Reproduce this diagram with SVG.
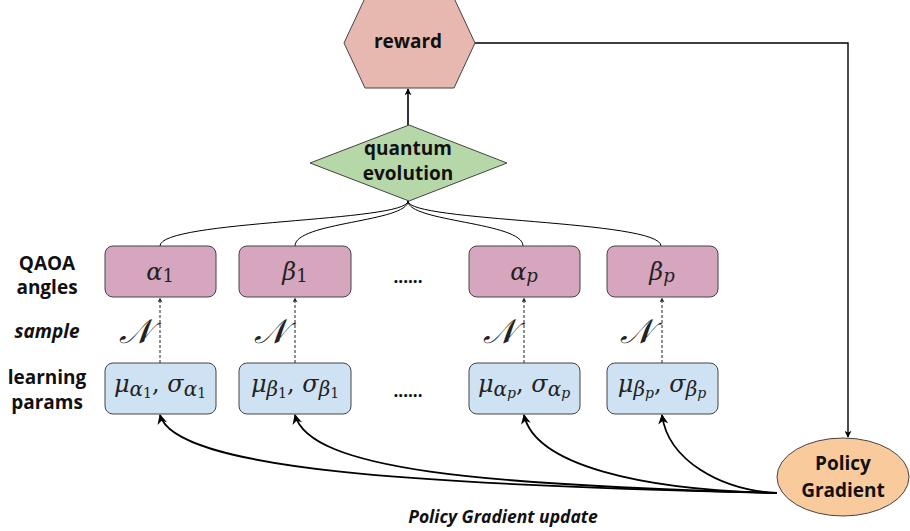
<svg xmlns="http://www.w3.org/2000/svg" width="910" height="531" viewBox="0 0 910 531">
<style>
.lbl{font-family:"Open Sans","Liberation Sans",sans-serif;font-weight:bold;font-size:19px;fill:#111;text-anchor:middle}
.math{font-family:"DejaVu Serif","Liberation Serif",serif;font-style:italic;font-size:24px;fill:#222;text-anchor:middle}
.up{font-style:normal}
.cal{font-size:34px}
.node{stroke:#444;stroke-width:1}
.pink{fill:#D5A6BD}
.blue{fill:#CFE2F3}
.conn{fill:none;stroke:#000}
.dash{fill:none;stroke:#222;stroke-width:1;stroke-dasharray:3,2}
.dots{font-family:"Open Sans","Liberation Sans",sans-serif;font-weight:bold;font-size:17px;fill:#111;text-anchor:middle}
</style>
<defs>
<marker id="ah" viewBox="0 0 10 10" refX="9" refY="5" markerWidth="7" markerHeight="7" markerUnits="userSpaceOnUse" orient="auto">
<path d="M0,0 L10,5 L0,10 L3,5 Z" fill="#000"/>
</marker>
<marker id="ahs" viewBox="0 0 10 10" refX="9" refY="5" markerWidth="5" markerHeight="5" markerUnits="userSpaceOnUse" orient="auto">
<path d="M0,0 L10,5 L0,10 L3,5 Z" fill="#222"/>
</marker>
<marker id="ahb" viewBox="0 0 10 10" refX="9" refY="5" markerWidth="10" markerHeight="10" markerUnits="userSpaceOnUse" orient="auto">
<path d="M0,0 L10,5 L0,10 L3,5 Z" fill="#000"/>
</marker>
</defs>

<g id="connectors">
<path class="conn" stroke-width="1.6" d="M408,125 L408,89" marker-end="url(#ah)"/>
<path class="conn" stroke-width="1.4" d="M475,43 L848,43 L848,437" marker-end="url(#ah)"/>
<path class="conn" stroke-width="1" d="M408,201 C408,222 160,220 160,246"/>
<path class="conn" stroke-width="1" d="M408,201 C408,222 295,222 295,246"/>
<path class="conn" stroke-width="1" d="M408,201 C408,222 523,222 523,246"/>
<path class="conn" stroke-width="1" d="M408,201 C408,222 661,220 661,246"/>
<path class="dash" d="M160,363 L160,298" marker-end="url(#ahs)"/>
<path class="dash" d="M295,363 L295,298" marker-end="url(#ahs)"/>
<path class="dash" d="M524,363 L524,298" marker-end="url(#ahs)"/>
<path class="dash" d="M662,363 L662,298" marker-end="url(#ahs)"/>
<path class="conn" stroke-width="1.8" d="M777,493 C420,485 175,470 160,415" marker-end="url(#ahb)"/>
<path class="conn" stroke-width="1.8" d="M777,493 C480,485 310,470 295,415" marker-end="url(#ahb)"/>
<path class="conn" stroke-width="1.8" d="M777,493 C640,490 535,465 524,415" marker-end="url(#ahb)"/>
<path class="conn" stroke-width="1.8" d="M777,493 C720,490 668,460 662,415" marker-end="url(#ahb)"/>
</g>

<g id="reward">
<polygon class="node" fill="#E6B8AF" points="344,43 365,-2 454,-2 475,43 454,88 365,88"/>
<text class="lbl" x="408" y="48">reward</text>
</g>

<g id="quantum-evolution">
<polygon class="node" fill="#B6D7A8" points="409,125 507,163 409,201 310,163"/>
<text class="lbl" x="408" y="155">quantum</text>
<text class="lbl" x="408" y="180">evolution</text>
</g>

<g id="row-labels">
<text class="lbl" x="47" y="270">QAOA</text>
<text class="lbl" x="47" y="294">angles</text>
<text class="lbl" x="47" y="338" font-style="italic">sample</text>
<text class="lbl" x="47" y="384">learning</text>
<text class="lbl" x="47" y="409">params</text>
</g>

<g id="alpha1">
<rect class="node pink" x="105" y="246" width="111" height="51" rx="8"/>
<text class="math" x="160" y="280">α<tspan class="up" font-size="18" dy="2">1</tspan></text>
</g>
<g id="beta1">
<rect class="node pink" x="239" y="246" width="112" height="51" rx="8"/>
<text class="math" x="295" y="280">β<tspan class="up" font-size="18" dy="2">1</tspan></text>
</g>
<g id="alphap">
<rect class="node pink" x="469" y="246" width="111" height="51" rx="8"/>
<text class="math" x="524" y="280">α<tspan font-size="18" dy="2">p</tspan></text>
</g>
<g id="betap">
<rect class="node pink" x="607" y="246" width="111" height="51" rx="8"/>
<text class="math" x="662" y="280">β<tspan font-size="18" dy="2">p</tspan></text>
</g>

<text class="dots" x="408" y="283">......</text>
<text class="dots" x="408" y="397">......</text>

<g id="sample-labels">
<text class="math cal" x="135" y="343">𝒩</text>
<text class="math cal" x="270" y="343">𝒩</text>
<text class="math cal" x="499" y="343">𝒩</text>
<text class="math cal" x="636" y="343">𝒩</text>
</g>

<g id="mu-alpha1">
<rect class="node blue" x="105" y="363" width="111" height="51" rx="8"/>
<text class="math" x="160" y="392" font-size="23">μ<tspan font-size="20" dy="4">α</tspan><tspan class="up" font-size="14" dy="2">1</tspan><tspan class="up" dy="-6">, </tspan>σ<tspan font-size="20" dy="4">α</tspan><tspan class="up" font-size="14" dy="2">1</tspan></text>
</g>
<g id="mu-beta1">
<rect class="node blue" x="239" y="363" width="112" height="51" rx="8"/>
<text class="math" x="295" y="392" font-size="23">μ<tspan font-size="20" dy="4">β</tspan><tspan class="up" font-size="14" dy="2">1</tspan><tspan class="up" dy="-6">, </tspan>σ<tspan font-size="20" dy="4">β</tspan><tspan class="up" font-size="14" dy="2">1</tspan></text>
</g>
<g id="mu-alphap">
<rect class="node blue" x="469" y="363" width="111" height="51" rx="8"/>
<text class="math" x="524" y="392" font-size="23">μ<tspan font-size="20" dy="4">α</tspan><tspan font-size="14" dy="2">p</tspan><tspan class="up" dy="-6">, </tspan>σ<tspan font-size="20" dy="4">α</tspan><tspan font-size="14" dy="2">p</tspan></text>
</g>
<g id="mu-betap">
<rect class="node blue" x="607" y="363" width="111" height="51" rx="8"/>
<text class="math" x="662" y="392" font-size="23">μ<tspan font-size="20" dy="4">β</tspan><tspan font-size="14" dy="2">p</tspan><tspan class="up" dy="-6">, </tspan>σ<tspan font-size="20" dy="4">β</tspan><tspan font-size="14" dy="2">p</tspan></text>
</g>

<g id="policy-gradient">
<ellipse class="node" fill="#F9CB9C" cx="843" cy="477" rx="66" ry="39"/>
<text class="lbl" x="843" y="470">Policy</text>
<text class="lbl" x="843" y="497">Gradient</text>
</g>

<text class="lbl" x="503" y="523" font-style="italic" style="font-size:17.5px">Policy Gradient update</text>
</svg>
